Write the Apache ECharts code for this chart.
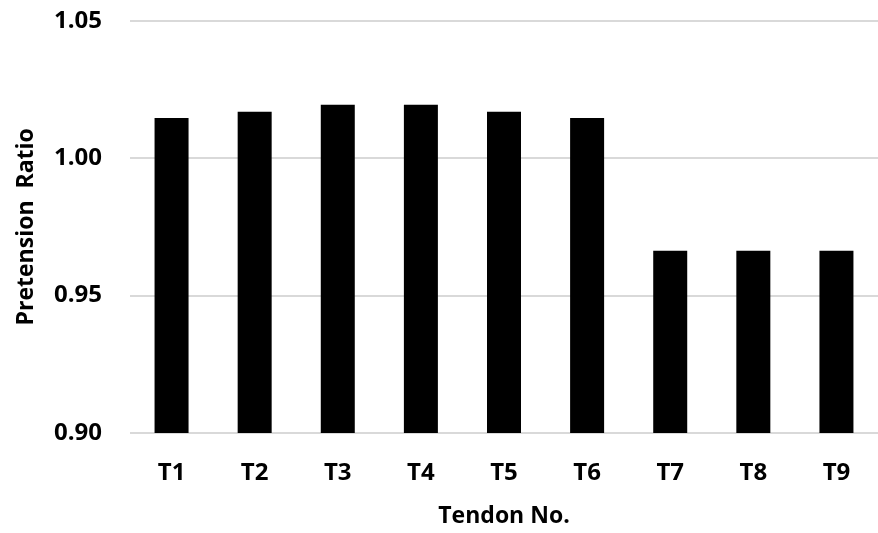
<!DOCTYPE html>
<html>
<head>
<meta charset="utf-8">
<script src="https://cdn.jsdelivr.net/npm/echarts@6/dist/echarts.min.js"></script>
<style>
html,body{margin:0;padding:0;background:#fff;}
#c{width:878px;height:533px;}
</style>
</head>
<body>
<div id="c"></div>
<script>
const categories = ['T1','T2','T3','T4','T5','T6','T7','T8','T9'];
const ratios = [1.0146, 1.0169, 1.0194, 1.0194, 1.0169, 1.0146, 0.9663, 0.9663, 0.9663];
const yTicks = {min: 0.90, max: 1.05, interval: 0.05};
const xName = 'Tendon No.';
const yName = 'Pretension  Ratio';

const font = 'Open Sans';
const chart = echarts.init(document.getElementById('c'), null, {renderer: 'canvas'});
chart.setOption({
  animation: false,
  backgroundColor: '#fff',
  grid: {left: 130, right: -8, top: 20.7, bottom: 95.3, containLabel: false},
  xAxis: {
    type: 'category',
    data: categories,
    name: xName,
    nameLocation: 'middle',
    nameGap: 72,
    nameTextStyle: {fontFamily: font, fontWeight: 'bold', fontSize: 23, color: '#000'},
    axisLine: {show: false},
    axisTick: {show: false},
    axisLabel: {fontFamily: font, fontWeight: 'bold', fontSize: 24, color: '#000', margin: 28}
  },
  yAxis: {
    type: 'value',
    min: yTicks.min,
    max: yTicks.max,
    interval: yTicks.interval,
    name: yName,
    nameLocation: 'middle',
    nameGap: 92,
    nameTextStyle: {fontFamily: font, fontWeight: 'bold', fontSize: 23, color: '#000'},
    axisLine: {show: false},
    axisTick: {show: false},
    splitLine: {show: true, lineStyle: {color: '#d9d9d9', width: 2}},
    axisLabel: {fontFamily: font, fontWeight: 'bold', fontSize: 24, color: '#000', margin: 28,
      formatter: v => v.toFixed(2)}
  },
  series: [{
    type: 'bar',
    data: ratios,
    barWidth: 34,
    itemStyle: {color: '#000'}
  }]
});
</script>
</body>
</html>
